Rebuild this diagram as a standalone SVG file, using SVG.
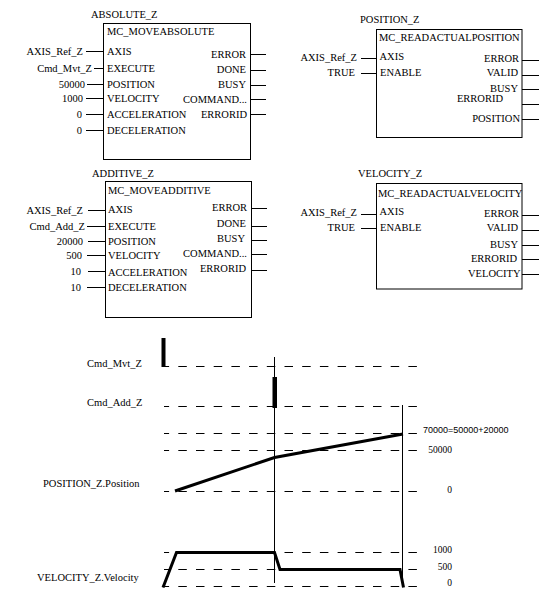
<svg xmlns="http://www.w3.org/2000/svg" width="550" height="602" viewBox="0 0 550 602">
<style>
text{font-family:"Liberation Serif","Times New Roman",serif;font-size:10.5px;fill:#000}
.e{text-anchor:end}
.box{fill:#fff;stroke:#000;stroke-width:1}
.pin{stroke:#000;stroke-width:1;fill:none}
.dash{stroke:#000;stroke-width:1;stroke-dasharray:8.5 9.2;stroke-dashoffset:3.4;fill:none}
.thin{stroke:#000;stroke-width:1;fill:none}
.sig{stroke:#000;stroke-width:3;fill:none;stroke-linejoin:miter}
.num{font-size:9.5px}
.sans{font-family:"Liberation Sans",Arial,sans-serif;font-size:9px}
</style>
<rect width="550" height="602" fill="#fff"/>

<g id="connectors">
  <!-- ABSOLUTE_Z inputs -->
  <line class="pin" x1="86" y1="51.5" x2="103" y2="51.5"/>
  <line class="pin" x1="94" y1="68.5" x2="103" y2="68.5"/>
  <line class="pin" x1="87" y1="84.5" x2="103" y2="84.5"/>
  <line class="pin" x1="86" y1="98.5" x2="103" y2="98.5"/>
  <line class="pin" x1="86" y1="114.5" x2="103" y2="114.5"/>
  <line class="pin" x1="86" y1="130.5" x2="103" y2="130.5"/>
  <!-- ABSOLUTE_Z outputs -->
  <line class="pin" x1="251" y1="54.5" x2="266" y2="54.5"/>
  <line class="pin" x1="251" y1="70.5" x2="266" y2="70.5"/>
  <line class="pin" x1="251" y1="85.5" x2="266" y2="85.5"/>
  <line class="pin" x1="251" y1="99.5" x2="266" y2="99.5"/>
  <line class="pin" x1="251" y1="114.5" x2="266" y2="114.5"/>
  <!-- ADDITIVE_Z inputs -->
  <line class="pin" x1="88" y1="210.5" x2="105" y2="210.5"/>
  <line class="pin" x1="87" y1="226.5" x2="105" y2="226.5"/>
  <line class="pin" x1="88" y1="241.5" x2="105" y2="241.5"/>
  <line class="pin" x1="87" y1="255.5" x2="105" y2="255.5"/>
  <line class="pin" x1="88" y1="271.5" x2="105" y2="271.5"/>
  <line class="pin" x1="87" y1="287.5" x2="105" y2="287.5"/>
  <!-- ADDITIVE_Z outputs -->
  <line class="pin" x1="252" y1="208.5" x2="267" y2="208.5"/>
  <line class="pin" x1="252" y1="226.5" x2="267" y2="226.5"/>
  <line class="pin" x1="252" y1="240.5" x2="267" y2="240.5"/>
  <line class="pin" x1="252" y1="254.5" x2="267" y2="254.5"/>
  <line class="pin" x1="252" y1="270.5" x2="267" y2="270.5"/>
  <!-- POSITION_Z inputs -->
  <line class="pin" x1="361" y1="58.5" x2="376" y2="58.5"/>
  <line class="pin" x1="361" y1="73.5" x2="376" y2="73.5"/>
  <!-- POSITION_Z outputs -->
  <line class="pin" x1="522" y1="60.5" x2="539" y2="60.5"/>
  <line class="pin" x1="522" y1="75.5" x2="539" y2="75.5"/>
  <line class="pin" x1="522" y1="89.5" x2="539" y2="89.5"/>
  <line class="pin" x1="522" y1="104.5" x2="539" y2="104.5"/>
  <line class="pin" x1="522" y1="119.5" x2="539" y2="119.5"/>
  <!-- VELOCITY_Z inputs -->
  <line class="pin" x1="361" y1="214.5" x2="376" y2="214.5"/>
  <line class="pin" x1="361" y1="228.5" x2="376" y2="228.5"/>
  <!-- VELOCITY_Z outputs -->
  <line class="pin" x1="522" y1="215.5" x2="539" y2="215.5"/>
  <line class="pin" x1="522" y1="230.5" x2="539" y2="230.5"/>
  <line class="pin" x1="522" y1="245.5" x2="539" y2="245.5"/>
  <line class="pin" x1="522" y1="259.5" x2="539" y2="259.5"/>
  <line class="pin" x1="522" y1="274.5" x2="539" y2="274.5"/>
</g>

<g id="labels-in">
  <text class="e" x="83" y="55">AXIS_Ref_Z</text>
  <text class="e" x="92" y="71.5">Cmd_Mvt_Z</text>
  <text class="e" x="85" y="87.5">50000</text>
  <text class="e" x="83" y="102">1000</text>
  <text class="e" x="82" y="118">0</text>
  <text class="e" x="82" y="134">0</text>

  <text class="e" x="83" y="213.5">AXIS_Ref_Z</text>
  <text class="e" x="85" y="230">Cmd_Add_Z</text>
  <text class="e" x="83" y="245">20000</text>
  <text class="e" x="82" y="259">500</text>
  <text class="e" x="81" y="275">10</text>
  <text class="e" x="81" y="291">10</text>

  <text class="e" x="357" y="60.5">AXIS_Ref_Z</text>
  <text class="e" x="355" y="75.5">TRUE</text>
  <text class="e" x="357" y="215.5">AXIS_Ref_Z</text>
  <text class="e" x="355" y="231">TRUE</text>
</g>

<g id="ABSOLUTE_Z">
  <text x="91" y="17.5">ABSOLUTE_Z</text>
  <rect class="box" x="103.5" y="23.5" width="147" height="136"/>
  <text x="107" y="35">MC_MOVEABSOLUTE</text>
  <text x="107" y="54.5">AXIS</text>
  <text x="107" y="71.5">EXECUTE</text>
  <text x="107" y="87.5">POSITION</text>
  <text x="107" y="101.5">VELOCITY</text>
  <text x="107" y="118">ACCELERATION</text>
  <text x="107" y="134">DECELERATION</text>
  <text class="e" x="246" y="57.5">ERROR</text>
  <text class="e" x="246" y="72.5">DONE</text>
  <text class="e" x="246" y="88">BUSY</text>
  <text class="e" x="247" y="102.5">COMMAND...</text>
  <text class="e" x="247" y="118">ERRORID</text>
</g>

<g id="ADDITIVE_Z">
  <text x="92" y="177">ADDITIVE_Z</text>
  <rect class="box" x="105.5" y="181.5" width="146" height="136"/>
  <text x="108" y="194">MC_MOVEADDITIVE</text>
  <text x="108" y="213">AXIS</text>
  <text x="108" y="230">EXECUTE</text>
  <text x="108" y="245">POSITION</text>
  <text x="108" y="259">VELOCITY</text>
  <text x="108" y="275.5">ACCELERATION</text>
  <text x="108" y="291">DECELERATION</text>
  <text class="e" x="247" y="211">ERROR</text>
  <text class="e" x="246" y="226.5">DONE</text>
  <text class="e" x="245" y="241.5">BUSY</text>
  <text class="e" x="247" y="256.5">COMMAND...</text>
  <text class="e" x="246" y="271.5">ERRORID</text>
</g>

<g id="POSITION_Z">
  <text x="360" y="22.5">POSITION_Z</text>
  <rect class="box" x="376.5" y="29.5" width="145.5" height="108"/>
  <text x="379" y="40.5">MC_READACTUALPOSITION</text>
  <text x="379.5" y="60">AXIS</text>
  <text x="380" y="75.5">ENABLE</text>
  <text class="e" x="519" y="61.5">ERROR</text>
  <text class="e" x="518" y="75.5">VALID</text>
  <text class="e" x="518" y="91.5">BUSY</text>
  <text class="e" x="503" y="102">ERRORID</text>
  <text class="e" x="520" y="122">POSITION</text>
</g>

<g id="VELOCITY_Z">
  <text x="358" y="177">VELOCITY_Z</text>
  <rect class="box" x="376.5" y="183.5" width="145.5" height="105.5"/>
  <text x="378" y="197">MC_READACTUALVELOCITY</text>
  <text x="379.5" y="215">AXIS</text>
  <text x="380" y="231">ENABLE</text>
  <text class="e" x="519" y="217">ERROR</text>
  <text class="e" x="518" y="230.5">VALID</text>
  <text class="e" x="518" y="247.5">BUSY</text>
  <text class="e" x="517" y="261.5">ERRORID</text>
  <text class="e" x="520.5" y="276.5">VELOCITY</text>
</g>

<g id="chart">
  <!-- reference dashed lines -->
  <line class="dash" x1="164" y1="366.5" x2="417" y2="366.5"/>
  <line class="dash" x1="164" y1="406.5" x2="417" y2="406.5"/>
  <line class="dash" x1="164" y1="433.5" x2="417" y2="433.5"/>
  <line class="dash" x1="164" y1="450.5" x2="417" y2="450.5"/>
  <line class="dash" x1="164" y1="491.5" x2="417" y2="491.5"/>
  <line class="dash" x1="164" y1="552.5" x2="417" y2="552.5"/>
  <line class="dash" x1="164" y1="569.5" x2="417" y2="569.5"/>
  <line class="dash" x1="164" y1="586.5" x2="417" y2="586.5"/>
  <!-- time markers -->
  <line class="thin" x1="274.5" y1="357" x2="274.5" y2="583"/>
  <line class="thin" x1="402.5" y1="405" x2="402.5" y2="587"/>
  <!-- command pulses -->
  <rect x="161.5" y="338" width="4" height="29" fill="#000"/>
  <rect x="272.5" y="377" width="4.5" height="31" fill="#000"/>
  <!-- position curve -->
  <polyline class="sig" points="175,491 274.5,457.5 403,434"/>
  <!-- velocity curve -->
  <polyline class="sig" points="163,587.5 176.5,552.5 274.5,552.5 280,569.5 400,569.5 403.5,587.5"/>

  <text x="87" y="367">Cmd_Mvt_Z</text>
  <text x="87" y="406">Cmd_Add_Z</text>
  <text x="43" y="486.5">POSITION_Z.Position</text>
  <text x="37" y="581">VELOCITY_Z.Velocity</text>

  <text class="sans" x="423" y="433">70000=50000+20000</text>
  <text class="num e" x="452" y="453">50000</text>
  <text class="num e" x="452" y="493">0</text>
  <text class="num e" x="452" y="553">1000</text>
  <text class="num e" x="452" y="570">500</text>
  <text class="num e" x="452" y="586">0</text>
</g>
</svg>
